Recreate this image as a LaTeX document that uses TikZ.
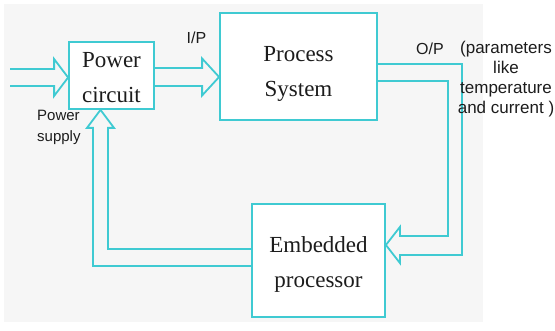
\documentclass[tikz,border=0pt]{standalone}
\usepackage{fontspec}
\setmainfont{Liberation Serif}
\setsansfont{Liberation Sans}
\usetikzlibrary{calc}
\definecolor{pipeCyan}{HTML}{3FCAD2}
\definecolor{paperGray}{HTML}{F6F6F6}
\definecolor{inkDark}{HTML}{1C1C1C}

\begin{document}
\begin{tikzpicture}[x=1pt, y=-1pt,
    block/.style={rectangle, draw=pipeCyan, line width=1.8pt, fill=white, align=center,
                  inner sep=0pt, font=\fontsize{23}{35}\selectfont, text=inkDark},
    pipe/.style={draw=pipeCyan, line width=1.8pt, line join=miter},
    tag/.style={font=\sffamily\fontsize{16}{20}\selectfont, text=inkDark, inner sep=0pt},
  ]
  \useasboundingbox (0,0) rectangle (555,331);
  \fill[paperGray] (4,4) rectangle (483,322);

  % ─── Blocks ───
  \node[block, minimum width=85pt, minimum height=67pt, text height=55pt, text depth=0pt]
    (pwr) at (111.5,75.5) {Power\\circuit};
  \node[block, minimum width=157pt, minimum height=107pt, text height=66pt, text depth=5pt]
    (proc) at (298.5,66.5) {Process\\System};
  \node[block, minimum width=133pt, minimum height=113pt, text height=60pt, text depth=5pt]
    (emb) at (318.5,260.5) {Embedded\\processor};

  % ─── Supply into the power circuit ───
  \coordinate (src) at (10,77.5);
  \draw[pipe] ($(src)+(0,-8.5)$) -| ($(pwr.west |- src)+(-14,-18.5)$) -- (pwr.west |- src)
    -- ($(pwr.west |- src)+(-14,18.5)$) |- ($(src)+(0,8.5)$);

  % ─── I/P: power circuit to process ───
  \coordinate (ipAxis) at ($(pwr.east)+(0,1.5)$);
  \draw[pipe] ($(ipAxis)+(0,-9)$) -| ($(proc.west |- ipAxis)+(-17,-18.5)$) -- (proc.west |- ipAxis)
    -- ($(proc.west |- ipAxis)+(-17,18.5)$) |- ($(ipAxis)+(0,9)$);

  % ─── O/P: process back down to the processor ───
  \coordinate (fbTip) at ($(emb.east)+(0,-15.5)$);
  \draw[pipe] ($(proc.east)+(0,-2.5)$) -| ($(fbTip)+(76,10)$) -- ($(fbTip)+(14,10)$) -- ++(0,8)
    -- (fbTip) -- ($(fbTip)+(14,-18)$) -- ++(0,9) -| ($(proc.east)+(70,14.5)$)
    -- ($(proc.east)+(0,14.5)$);

  % ─── Processor drives the power circuit ───
  \coordinate (psTip) at ($(pwr.south)+(-11,0)$);
  \draw[pipe] ($(emb.west)+(0,5.5)$) -| ($(psTip)+(-7.5,18)$) -- ++(-6,0) -- (psTip)
    -- ($(psTip)+(13.5,18)$) -- ++(-6,0) |- ($(emb.west)+(0,-11.5)$);

  % ─── Labels ───
  \node[tag] (ipTag) at (196.5,38) {I/P};
  \node[tag] (opTag) at (430,49) {O/P};
  \node[tag, font=\sffamily\fontsize{15}{20.5}\selectfont, align=left, anchor=north west]
    (supTag) at (37,110) {Power\\supply};
  \node[tag, font=\sffamily\fontsize{17}{20}\selectfont, align=center]
    (parTag) at (506,79.6) {(parameters\\like\\temperature\\and current )};
\end{tikzpicture}
\end{document}
